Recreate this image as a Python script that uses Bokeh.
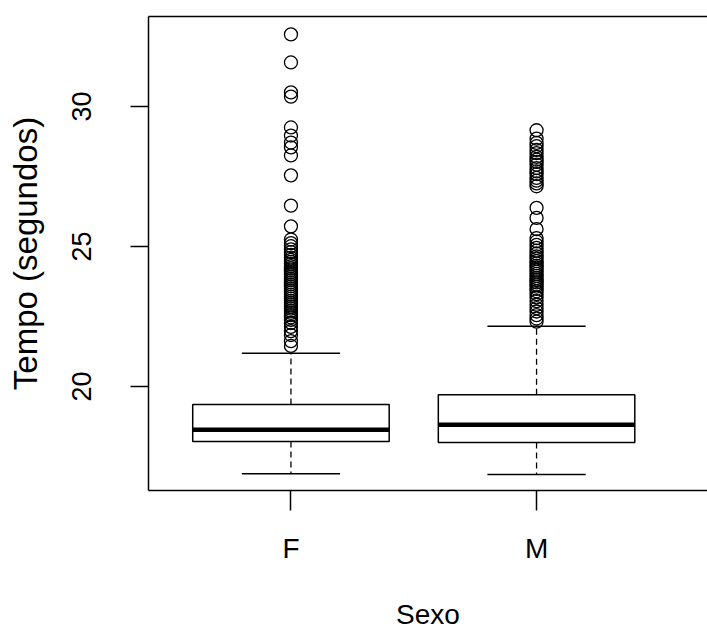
from bokeh.plotting import figure
from bokeh.models import FixedTicker, LinearAxis, Range1d
from bokeh.embed import file_html
from bokeh.resources import INLINE

# ---- data ----
categories = ["F", "M"]
whisker_low = [16.89, 16.86]
q1 = [18.04, 18.00]
median = [18.46, 18.64]
q3 = [19.36, 19.71]
whisker_high = [21.19, 22.15]

outliers_F = [32.57, 31.57, 30.50, 30.35, 29.25, 28.96, 28.71, 28.54, 28.25,
              27.54, 26.46, 25.72, 25.25, 25.12, 25.01, 24.90, 24.80, 24.70,
              24.60, 24.52, 24.45, 24.38, 24.30, 24.22, 24.15, 24.08, 24.01,
              23.93, 23.86, 23.80, 23.72, 23.65, 23.58, 23.50, 23.43, 23.36,
              23.28, 23.21, 23.14, 23.06, 22.99, 22.92, 22.85, 22.78, 22.70,
              22.63, 22.55, 22.47, 22.38, 22.27, 22.13, 21.98, 21.84, 21.62,
              21.45]
outliers_M = [29.15, 28.85, 28.70, 28.58, 28.45, 28.33, 28.20, 28.10, 28.02,
              27.92, 27.80, 27.68, 27.58, 27.45, 27.35, 27.25, 27.15, 26.38,
              26.02, 25.62, 25.30, 25.18, 25.06, 24.95, 24.85, 24.75, 24.65,
              24.57, 24.48, 24.40, 24.32, 24.25, 24.17, 24.10, 24.02, 23.95,
              23.87, 23.80, 23.72, 23.64, 23.57, 23.49, 23.40, 23.30, 23.18,
              23.05, 22.92, 22.80, 22.68, 22.55, 22.43, 22.32]
y_ticks = [20, 25, 30]

FONT = "Liberation Sans"
pos = [i + 1 for i in range(len(categories))]
box_half = 0.4
staple_half = 0.2

p = figure(width=707, height=632, output_backend="svg", toolbar_location=None,
           x_range=Range1d(0.42, 2.696), y_range=Range1d(16.29, 33.21),
           min_border_left=148, min_border_right=0, min_border_top=16,
           min_border_bottom=142)
p.outline_line_color = None
p.xgrid.visible = False
p.ygrid.visible = False
p.background_fill_color = "white"
p.border_fill_color = "white"

# whiskers (dashed)
p.segment(x0=pos, x1=pos, y0=q3, y1=whisker_high, line_color="black",
          line_width=1.3, line_dash="6 4")
p.segment(x0=pos, x1=pos, y0=q1, y1=whisker_low, line_color="black",
          line_width=1.3, line_dash="6 4")
# staples
p.segment(x0=[x - staple_half for x in pos], x1=[x + staple_half for x in pos],
          y0=whisker_high, y1=whisker_high, line_color="black", line_width=1.5)
p.segment(x0=[x - staple_half for x in pos], x1=[x + staple_half for x in pos],
          y0=whisker_low, y1=whisker_low, line_color="black", line_width=1.5)
# boxes
p.quad(left=[x - box_half for x in pos], right=[x + box_half for x in pos],
       bottom=q1, top=q3, fill_color="white", line_color="black", line_width=1.5)
# medians
p.segment(x0=[x - box_half for x in pos], x1=[x + box_half for x in pos],
          y0=median, y1=median, line_color="black", line_width=4.5)

# outliers
p.scatter(x=[pos[0]] * len(outliers_F), y=outliers_F, marker="circle", size=13,
          fill_color=None, line_color="black", line_width=1.3)
p.scatter(x=[pos[1]] * len(outliers_M), y=outliers_M, marker="circle", size=13,
          fill_color=None, line_color="black", line_width=1.3)

# axes
xa = p.xaxis[0]
xa.ticker = FixedTicker(ticks=pos)
xa.major_label_overrides = {x: c for x, c in zip(pos, categories)}
xa.axis_label = "Sexo"
ya = p.yaxis[0]
ya.ticker = FixedTicker(ticks=y_ticks)
ya.axis_label = "Tempo (segundos)"
ya.major_label_orientation = "vertical"

for ax in (xa, ya):
    ax.axis_line_color = "black"
    ax.axis_line_width = 1.5
    ax.major_tick_line_color = "black"
    ax.major_tick_line_width = 1.5
    ax.major_tick_in = 0
    ax.minor_tick_line_color = None
    ax.major_label_text_font = FONT
    ax.major_label_text_color = "black"
    ax.axis_label_text_font = FONT
    ax.axis_label_text_font_style = "normal"
    ax.axis_label_text_color = "black"

xa.major_label_text_font_size = "28px"
xa.axis_label_text_font_size = "28px"
ya.major_label_text_font_size = "27px"
ya.axis_label_text_font_size = "33px"

xa.major_tick_out = 20
xa.major_label_standoff = 22
xa.axis_label_standoff = 32
ya.major_tick_out = 18
ya.major_label_standoff = 39
ya.axis_label_standoff = 26

top = LinearAxis(ticker=FixedTicker(ticks=[]), axis_line_color="black",
                 axis_line_width=1.5, major_tick_line_color=None,
                 minor_tick_line_color=None, major_label_text_font_size="0px")
p.add_layout(top, "above")

open("out.html", "w").write(file_html(p, INLINE))
